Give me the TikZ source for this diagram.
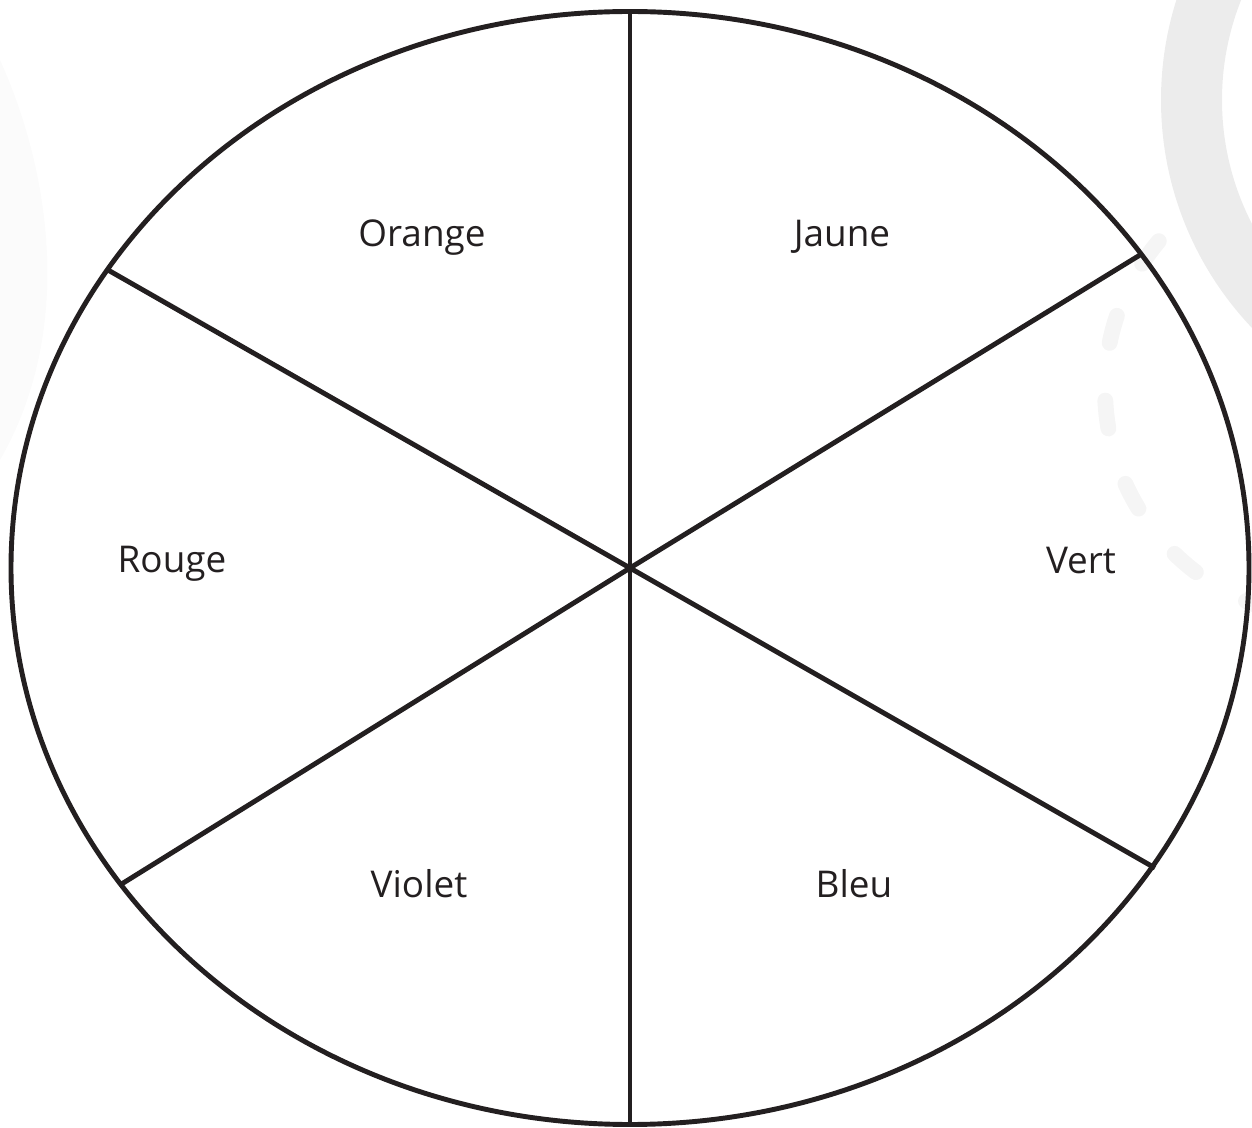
\documentclass[tikz,border=0pt]{standalone}
\usepackage{fontspec}
\setmainfont{Open Sans}
\usepackage{xcolor}
\usepackage{tikz}
\usetikzlibrary{positioning}
\definecolor{wheelink}{RGB}{35,31,32}
\definecolor{ghostgray}{RGB}{236,236,236}
\definecolor{ghostdash}{RGB}{245,245,245}
\definecolor{ghostleft}{RGB}{251,251,251}

\begin{document}
\begin{tikzpicture}[x=0.02cm, y=-0.02cm,
  every node/.style={font=\fontsize{21}{25}\selectfont, text=wheelink, anchor=base, inner sep=0pt},
  wheel/.style={draw=wheelink, line width=2.8pt},
  spoke/.style={draw=wheelink, line width=2.8pt},
  ghost/.style={draw=ghostdash, line width=9pt, line cap=round, dash pattern=on 16pt off 33pt}
]
  \useasboundingbox (0,0) rectangle (1252,1128);

  % faint decorations behind the wheel
  \fill[ghostleft] (0,60) .. controls (50,170) and (75,330) .. (0,460) -- cycle;
  \fill[ghostgray, even odd rule] (1492,100) circle [radius=331] (1492,100) circle [radius=270];
  \draw[ghost] (1335,389) ++(220:230) arc [start angle=220, end angle=100, radius=230];

  \coordinate (ctr) at (630,568);
  \coordinate (top) at (630,12);
  \coordinate (bot) at (630,1127);
  \coordinate (ul) at (108,270);
  \coordinate (ur) at (1140,255);
  \coordinate (lr) at (1155,868);
  \coordinate (ll) at (120,885);

  \draw[wheel] (ctr) ellipse [x radius=619, y radius=556.5];
  \draw[spoke] (top) -- (bot);
  \draw[spoke] (ul) -- (ctr) -- (lr);
  \draw[spoke] (ur) -- (ctr) -- (ll);

  \node (orange) at (422,247) {Orange};
  \node (jaune) at (842,247) {Jaune};
  \node (rouge) at (172,573) {Rouge};
  \node (vert) at (1081,574) {Vert};
  \node (violet) at (419,897) {Violet};
  \node (bleu) at (854,897) {Bleu};
\end{tikzpicture}
\end{document}
